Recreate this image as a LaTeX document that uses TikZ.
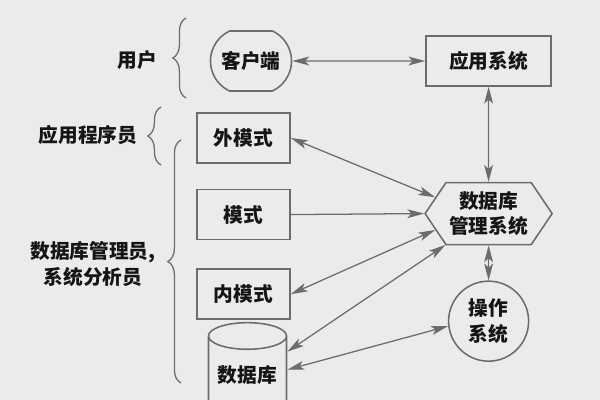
\documentclass[tikz,border=0pt]{standalone}
\usepackage{fontspec}
\newfontfamily\cjk{Noto Sans CJK SC}
\usetikzlibrary{positioning,arrows.meta,shapes.misc,shapes.symbols,shapes.geometric,decorations.pathreplacing}
\definecolor{paper}{HTML}{EBEBEB}
\definecolor{ink}{HTML}{6C6C6C}
\definecolor{txt}{HTML}{151515}

\begin{document}
\begin{tikzpicture}[x=0.025cm, y=0.025cm,
  >={Stealth[length=4.2mm, width=2.2mm, inset=1mm]},
  every node/.style={font=\cjk\bfseries\fontsize{14}{18}\selectfont, text=txt},
  box/.style={draw=ink, line width=1.1pt, minimum width=2.325cm, minimum height=1.25cm, inner sep=0pt},
  conn/.style={color=ink, line width=0.9pt},
  brc/.style={draw=ink, line width=0.9pt, decorate, decoration={brace, amplitude=0.33cm}}]
  \useasboundingbox[fill=paper] (0,0) rectangle (600,-400);
  \clip (0,0) rectangle (600,-400);

  % system side
  \node[draw=ink, line width=1.1pt, rounded rectangle, rounded rectangle arc length=130, minimum width=2.025cm, minimum height=1.5cm, inner xsep=0pt](client) at (251,-61){客户端};
  \node[box, minimum width=3.125cm, right=3.325cm of client](app){应用系统};
  \node[draw=ink, line width=1.1pt, signal, signal to=east and west, signal pointer angle=112, minimum width=3.175cm, minimum height=1.55cm, inner sep=0pt, align=center, below=2.375cm of app](dbms){数据库\\管理系统};
  \node[draw=ink, line width=1.1pt, circle, minimum size=2cm, inner sep=0pt, align=center, below=0.875cm of dbms](os){操作\\系统};

  % schemas
  \node[box](ext) at (243.5,-138){外模式};
  \node[box, below=0.625cm of ext](schema){模式};
  \node[box, below=0.7cm of schema](intern){内模式};
  \node[draw=ink, line width=1.1pt, cylinder, shape border rotate=90, aspect=0.45, minimum width=1.95cm, minimum height=2.25cm, inner sep=0pt, below=0.05cm of intern, xshift=0.1cm](db){数据库};

  % people
  \node(user) at (137,-60){用户};
  \node(coder) at (88,-135){应用程序员};
  \node[align=center](admin) at (93,-264){数据库管理员,\\系统分析员};
  \coordinate (ua) at (186,-98);
  \coordinate (ub) at (186,-18);
  \coordinate (ca) at (161,-165);
  \coordinate (cb) at (161,-107);
  \coordinate (aa) at (181,-383);
  \coordinate (ab) at (181,-140);
  \draw[brc] (ua) -- (ub);
  \draw[brc] (ca) -- (cb);
  \draw[brc] (aa) -- (ab);

  \path[conn, <->]
  (client) edge (app)
  (app) edge (dbms)
  (dbms) edge (os)
  (ext.east) edge (dbms.163)
  (intern.east) edge (dbms.197)
  ([yshift=0.575cm]db.east) edge (dbms.216)
  ([yshift=0.125cm]db.east) edge (os.187);
  \path[conn, ->]
  (schema.east) edge (dbms.west);
\end{tikzpicture}
\end{document}
